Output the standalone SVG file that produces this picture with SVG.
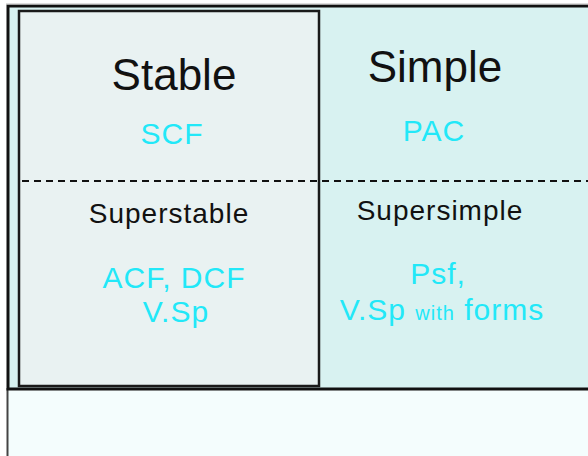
<svg xmlns="http://www.w3.org/2000/svg" width="588" height="456" viewBox="0 0 588 456">
  <style>
    .title { font-family: "Liberation Sans", Arial, sans-serif; font-size: 44px; fill: #111; text-anchor: middle; }
    .sub { font-family: "Liberation Sans", Arial, sans-serif; font-size: 28px; letter-spacing: 1px; fill: #111; text-anchor: middle; }
    .cyan { font-family: "Liberation Sans", Arial, sans-serif; font-size: 30px; letter-spacing: 1px; fill: #22e8f8; text-anchor: middle; }
    .small { font-size: 20px; }
  </style>
  <rect x="0" y="0" width="588" height="456" fill="#ffffff"/>
  <rect x="8" y="390" width="590" height="70" fill="#f4fdfd"/>
  <line x1="7.5" y1="388" x2="7.5" y2="456" stroke="#444" stroke-width="2"/>
  <g id="outer">
    <rect x="8" y="6" width="600" height="383" fill="#d8f2f1" stroke="#111" stroke-width="3"/>
    <line x1="6" y1="4" x2="588" y2="4" stroke="#bbb" stroke-width="1"/>
  </g>
  <g id="stable-box">
    <rect x="19" y="11" width="300" height="375" fill="#e9f2f2" stroke="#1a1a1a" stroke-width="2.5"/>
  </g>
  <g id="connectors">
    <line x1="22" y1="181" x2="588" y2="181" stroke="#111" stroke-width="2" stroke-dasharray="7 5"/>
  </g>
  <g id="stable">
    <text class="title" x="174" y="90">Stable</text>
    <text class="cyan" x="172" y="144">SCF</text>
  </g>
  <g id="simple">
    <text class="title" x="435" y="82">Simple</text>
    <text class="cyan" x="434" y="141">PAC</text>
  </g>
  <g id="superstable">
    <text class="sub" x="169" y="223">Superstable</text>
    <text class="cyan" x="174" y="288">ACF, DCF</text>
    <text class="cyan" x="176" y="322">V.Sp</text>
  </g>
  <g id="supersimple">
    <text class="sub" x="440" y="220">Supersimple</text>
    <text class="cyan" x="438" y="284">Psf,</text>
    <text class="cyan" x="442" y="320" letter-spacing="1.6">V.Sp <tspan class="small">with</tspan> forms</text>
  </g>
</svg>
